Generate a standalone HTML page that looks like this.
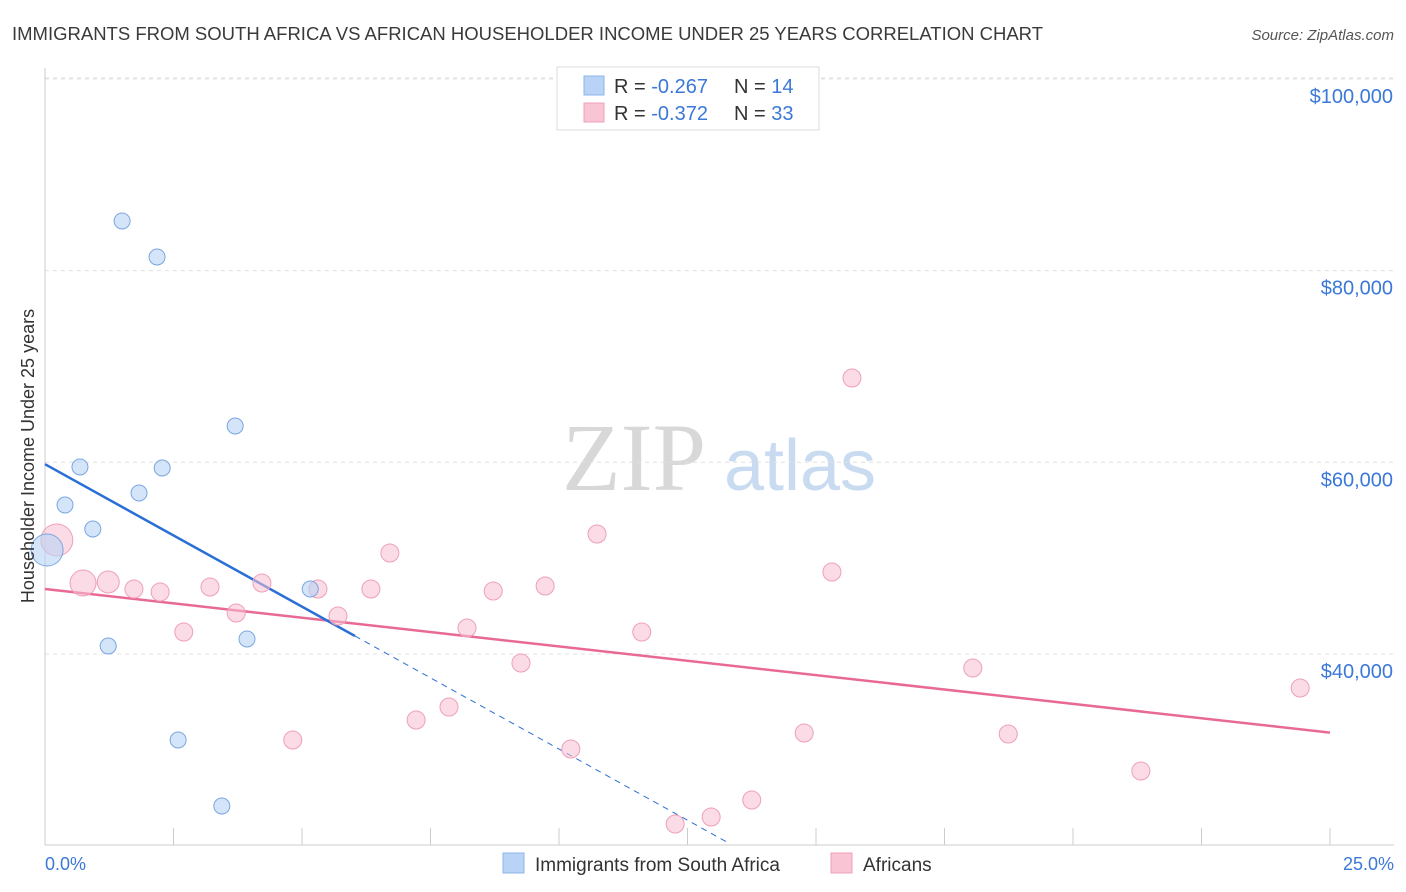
<!DOCTYPE html>
<html><head><meta charset="utf-8"><style>
body{margin:0;background:#fff;font-family:"Liberation Sans",sans-serif;}
svg{display:block}
</style></head><body>
<svg id="chart" width="1406" height="892" xmlns="http://www.w3.org/2000/svg">
<text x="12" y="40" font-size="18.5" fill="#3a3a3a">IMMIGRANTS FROM SOUTH AFRICA VS AFRICAN HOUSEHOLDER INCOME UNDER 25 YEARS CORRELATION CHART</text>
<text x="1394" y="40" font-size="15" fill="#555" font-style="italic" text-anchor="end">Source: ZipAtlas.com</text>
<g>
<text x="634" y="490" font-size="96" font-family="Liberation Serif, serif" fill="#d8d8d8" text-anchor="middle">ZIP</text>
<text x="800" y="490" font-size="72" fill="#c9dbf0" text-anchor="middle">atlas</text>
</g>
<g id="grid"></g>
<g id="axes"></g>
<g id="lines"></g>
<g id="pts"></g>
<text transform="translate(34,456) rotate(-90)" font-size="18" fill="#333" text-anchor="middle">Householder Income Under 25 years</text>
<text x="45" y="870" font-size="18" fill="#3b78d8">0.0%</text>
<text x="1394" y="870" font-size="18" fill="#3b78d8" text-anchor="end">25.0%</text>
<g>
<rect x="557" y="67" width="262" height="63" fill="#fff" stroke="#ddd"/>
<rect x="584" y="76" width="20" height="19" fill="#b8d3f5" stroke="#8db4e8"/>
<rect x="584" y="103" width="20" height="19" fill="#f9c4d3" stroke="#f0a0b8"/>
<text x="614" y="93" font-size="20" fill="#333">R = <tspan fill="#3b78d8">-0.267</tspan></text>
<text x="734" y="93" font-size="20" fill="#333">N = <tspan fill="#3b78d8">14</tspan></text>
<text x="614" y="120" font-size="20" fill="#333">R = <tspan fill="#3b78d8">-0.372</tspan></text>
<text x="734" y="120" font-size="20" fill="#333">N = <tspan fill="#3b78d8">33</tspan></text>
</g>
<g>
<rect x="503" y="853" width="21" height="20" fill="#b8d3f5" stroke="#8db4e8"/>
<text x="535" y="871" font-size="19" fill="#333">Immigrants from South Africa</text>
<rect x="831" y="853" width="21" height="20" fill="#f9c4d3" stroke="#f0a0b8"/>
<text x="863" y="871" font-size="19" fill="#333">Africans</text>
</g>
</svg>
<script>
const yTicks=[40000,60000,80000,100000];
const yTickLabels=["$40,000","$60,000","$80,000","$100,000"];
const blueX=[1.50,2.18,3.70,0.68,2.28,1.83,0.39,0.93,0.04,5.16,1.23,3.93,2.59,3.44];
const blueY=[85176,81420,63787,59510,59405,56797,55545,53041,50850,46782,40835,41565,31028,24142];
const blueR=[8,8,8,8,8,8,8,8,16,8,8,8,8,8];
const pinkX=[0.23,0.74,1.23,1.73,2.24,2.70,3.21,3.72,4.22,4.82,5.31,5.70,6.34,6.71,7.22,7.86,8.21,8.72,9.26,9.73,10.23,10.74,11.61,12.26,12.96,13.75,14.77,15.31,15.70,18.05,18.74,21.32,24.42];
const pinkY=[51894,47407,47512,46782,46468,42295,46990,44278,47407,31028,46782,43965,46782,50537,33114,34470,42713,46573,39061,47094,30089,52520,42295,22264,22994,24767,31758,48555,68795,38539,31654,27793,36453];
const pinkR=[16,13,11,9,9,9,9,9,9,9,9,9,9,9,9,9,9,9,9,9,9,9,9,9,9,9,9,9,9,9,9,9,9];
const blueTrend=[[0,59800],[6.03,41878],[13.3,20280]];
const pinkTrend=[[0,46782],[25,31800]];
const X=v=>45+v*51.4, Y=v=>654-(v-40000)*0.009585;
const NS="http://www.w3.org/2000/svg";
function mk(t,a,p){const e=document.createElementNS(NS,t);for(const k in a)e.setAttribute(k,a[k]);p.appendChild(e);return e;}
const grid=document.getElementById('grid'),axes=document.getElementById('axes'),lines=document.getElementById('lines'),pts=document.getElementById('pts');
yTicks.forEach((v,i)=>{
 const l=mk('line',{x1:45,x2:1394,y1:Y(v),y2:Y(v),stroke:'#e0e0e0','stroke-dasharray':'4,4'},grid);
 
 
 const t=mk('text',{x:1393,y:Y(v)+24,'font-size':20,fill:'#3b78d8','text-anchor':'end'},grid);
 t.textContent=yTickLabels[i];
 
 
});
const topGrid=mk('line',{x1:45,x2:1394,y1:78,y2:78,stroke:'#e0e0e0','stroke-dasharray':'4,4'},grid);


mk('line',{x1:45,x2:45,y1:68,y2:845,stroke:'#ccc'},axes);
const xa=mk('line',{x1:45,x2:1394,y1:845,y2:845,stroke:'#ccc'},axes);


for(let i=0;i<=10;i++){mk('line',{x1:X(i*2.5),x2:X(i*2.5),y1:828,y2:845,stroke:'#ccc'},axes);}
function pline(p,col,dash,name){const l=mk('line',{x1:X(p[0][0]),y1:Y(p[0][1]),x2:X(p[1][0]),y2:Y(p[1][1]),stroke:col,'stroke-width':dash?1:2.5},lines);if(dash)l.setAttribute('stroke-dasharray','6,5');
 
 }
pline([pinkTrend[0],pinkTrend[1]],'#e86a94',false,'africans-trend-line');
pline([blueTrend[0],blueTrend[1]],'#2a6fd6',false,'south-africa-trend-line');
pline([blueTrend[1],blueTrend[2]],'#2a6fd6',true,'south-africa-trend-extension');
pinkX.forEach((x,i)=>{const c=mk('circle',{cx:X(x),cy:Y(pinkY[i]),r:pinkR[i],fill:'rgba(248,190,208,0.55)',stroke:'#eea0b8','stroke-width':1},pts);
 
 });
blueX.forEach((x,i)=>{const c=mk('circle',{cx:X(x),cy:Y(blueY[i]),r:blueR[i],fill:'rgba(184,211,245,0.6)',stroke:'#7aa6e0','stroke-width':1},pts);
 
 });
</script>
</body></html>
